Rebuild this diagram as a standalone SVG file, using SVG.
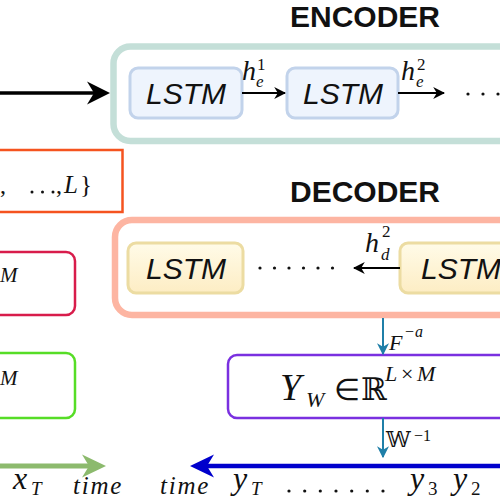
<svg xmlns="http://www.w3.org/2000/svg" width="500" height="500" viewBox="0 0 500 500">
<defs>
<linearGradient id="ygrad" x1="0" y1="0" x2="0" y2="1">
<stop offset="0" stop-color="#fffbe8"/>
<stop offset="1" stop-color="#fdedc4"/>
</linearGradient>
<marker id="ah" viewBox="0 0 10 10" refX="9" refY="5" markerWidth="6" markerHeight="6" markerUnits="strokeWidth" orient="auto">
<path d="M0,0 L10,5 L0,10 L3,5 Z" fill="#000"/>
</marker>
<marker id="ahteal" viewBox="0 0 10 10" refX="9" refY="5" markerWidth="6" markerHeight="6" markerUnits="strokeWidth" orient="auto">
<path d="M0,0 L10,5 L0,10 L3,5 Z" fill="#1f7fa8"/>
</marker>
</defs>
<style>
.title{font-family:"Liberation Sans",Arial,sans-serif;font-weight:bold;font-size:30px;fill:#111;}
.lstm{font-family:"Liberation Sans",Arial,sans-serif;font-style:italic;font-size:30px;fill:#111;text-anchor:middle;}
.m{font-family:"Liberation Serif","Times New Roman",serif;font-style:italic;fill:#111;}
.r{font-family:"Liberation Serif","Times New Roman",serif;fill:#111;}
.ds{font-family:"DejaVu Serif","DejaVu Sans",serif;fill:#111;}
.enc{fill:#eef4fd;stroke:#c2d3eb;stroke-width:3;}
.dec{fill:url(#ygrad);stroke:#ecdca2;stroke-width:3;}
.dot{fill:#111;}
</style>

<!-- Encoder frame -->
<g id="encoder">
<rect x="113.5" y="46.5" width="440" height="94.5" rx="17" fill="#fff" stroke="#c4dfd8" stroke-width="6.5"/>
<text class="title" x="290" y="27">ENCODER</text>
</g>
<g id="enc-lstm1">
<rect class="enc" x="130" y="68" width="112" height="50" rx="8"/>
<text class="lstm" x="186" y="104">LSTM</text>
</g>
<g id="enc-lstm2">
<rect class="enc" x="287" y="68" width="111" height="50" rx="8"/>
<text class="lstm" x="343" y="104">LSTM</text>
</g>
<g id="enc-dots">
<circle class="dot" cx="468" cy="94" r="1.6"/>
<circle class="dot" cx="483" cy="94" r="1.6"/>
<circle class="dot" cx="498" cy="94" r="1.6"/>
</g>

<!-- Decoder frame -->
<g id="decoder">
<rect x="115" y="220" width="440" height="95" rx="17" fill="#fff" stroke="#fdb5a2" stroke-width="6.5"/>
<text class="title" x="290" y="202">DECODER</text>
</g>
<g id="dec-lstm1">
<rect class="dec" x="128" y="243" width="115" height="50" rx="8"/>
<text class="lstm" x="186" y="279">LSTM</text>
</g>
<g id="dec-lstm2">
<rect class="dec" x="400" y="243" width="120" height="50" rx="8"/>
<text class="lstm" x="461" y="279">LSTM</text>
</g>
<g id="dec-dots">
<circle class="dot" cx="260" cy="268" r="1.6"/>
<circle class="dot" cx="274.5" cy="268" r="1.6"/>
<circle class="dot" cx="289" cy="268" r="1.6"/>
<circle class="dot" cx="303.5" cy="268" r="1.6"/>
<circle class="dot" cx="318" cy="268" r="1.6"/>
<circle class="dot" cx="332.5" cy="268" r="1.6"/>
</g>

<!-- Left boxes -->
<g id="set-box">
<rect x="-10" y="150" width="132.5" height="62" fill="none" stroke="#f5531f" stroke-width="2.5"/>
<text class="r" x="0" y="193" font-size="24">,</text>
<circle class="dot" cx="32" cy="192" r="1.5"/>
<circle class="dot" cx="42.5" cy="192" r="1.5"/>
<circle class="dot" cx="53" cy="192" r="1.5"/>
<text class="r" x="56" y="193" font-size="24">,</text>
<text class="m" x="64" y="193" font-size="25">L</text>
<text class="r" x="80" y="193" font-size="25">}</text>
</g>
<g id="red-box">
<rect x="-10" y="252" width="85" height="63" rx="9" fill="none" stroke="#d81c4b" stroke-width="2.5"/>
<text class="m" x="0" y="282" font-size="21">M</text>
</g>
<g id="green-box">
<rect x="-10" y="353" width="85" height="65" rx="9" fill="none" stroke="#56dd26" stroke-width="2.5"/>
<text class="m" x="0" y="385" font-size="21">M</text>
</g>

<!-- Purple box -->
<g id="yw-box">
<rect x="228" y="355" width="300" height="63" rx="9" fill="#fff" stroke="#7a30e0" stroke-width="2.5"/>
<text class="m" x="280" y="400" font-size="38">Y</text>
<text class="m" x="306" y="407" font-size="22">W</text>
<text class="r" x="334" y="400" font-size="30">∈</text>
<text class="ds" x="361" y="400" font-size="31">ℝ</text>
<text class="m" x="385" y="381" font-size="22">L</text>
<text class="r" x="401" y="381" font-size="22">×</text>
<text class="m" x="417" y="381" font-size="22">M</text>
</g>

<!-- Connectors -->
<g id="connectors">
<line x1="0" y1="93" x2="96" y2="93" stroke="#000" stroke-width="3.5"/>
<path d="M110,93 L87,81.5 L94,93 L87,104.5 Z" fill="#000"/>
<line x1="242" y1="93" x2="285" y2="93" stroke="#000" stroke-width="2" marker-end="url(#ah)"/>
<line x1="398" y1="93" x2="444" y2="93" stroke="#000" stroke-width="2" marker-end="url(#ah)"/>
<line x1="400" y1="268" x2="354" y2="268" stroke="#000" stroke-width="2" marker-end="url(#ah)"/>
<line x1="383" y1="318" x2="383" y2="354" stroke="#1f7fa8" stroke-width="2" marker-end="url(#ahteal)"/>
<line x1="383" y1="418" x2="383" y2="457" stroke="#1f7fa8" stroke-width="2" marker-end="url(#ahteal)"/>
<line x1="0" y1="466" x2="90" y2="466" stroke="#8cba6d" stroke-width="5"/>
<path d="M106,466 L82,454.5 L89,466 L82,477.5 Z" fill="#8cba6d"/>
<line x1="205" y1="466" x2="505" y2="466" stroke="#0000cc" stroke-width="4.5"/>
<path d="M190,466 L214,454.5 L207,466 L214,477.5 Z" fill="#0000cc"/>
</g>

<!-- Connector labels -->
<g id="labels">
<text class="m" x="242" y="80" font-size="28">h</text>
<text class="m" x="256" y="87" font-size="17">e</text>
<text class="r" x="257" y="70" font-size="17">1</text>
<text class="m" x="401" y="80" font-size="28">h</text>
<text class="m" x="416" y="87" font-size="17">e</text>
<text class="r" x="417" y="70" font-size="17">2</text>
<text class="m" x="365" y="252" font-size="28">h</text>
<text class="m" x="381" y="260" font-size="17">d</text>
<text class="r" x="382" y="237" font-size="17">2</text>
<text class="m" x="389" y="350" font-size="22">F</text>
<text class="r" x="405" y="337" font-size="16">−</text>
<text class="m" x="415" y="337" font-size="16">a</text>
<text class="ds" x="386" y="447" font-size="22">𝕎</text>
<text class="r" x="414" y="441" font-size="16">−1</text>
<text class="m" x="13" y="489" font-size="32">x</text>
<text class="m" x="31" y="495" font-size="19">T</text>
<text class="m" x="73" y="494" font-size="25" letter-spacing="1.8">time</text>
<text class="m" x="160" y="494" font-size="25" letter-spacing="1.8">time</text>
<text class="m" x="233" y="489" font-size="32">y</text>
<text class="m" x="251" y="495" font-size="19">T</text>
<circle class="dot" cx="289" cy="491" r="1.6"/>
<circle class="dot" cx="304.7" cy="491" r="1.6"/>
<circle class="dot" cx="320.3" cy="491" r="1.6"/>
<circle class="dot" cx="336" cy="491" r="1.6"/>
<circle class="dot" cx="351.7" cy="491" r="1.6"/>
<circle class="dot" cx="367.3" cy="491" r="1.6"/>
<circle class="dot" cx="383" cy="491" r="1.6"/>
<text class="m" x="410" y="489" font-size="32">y</text>
<text class="r" x="428" y="495" font-size="19">3</text>
<text class="m" x="453" y="489" font-size="32">y</text>
<text class="r" x="471" y="495" font-size="19">2</text>
</g>
</svg>
